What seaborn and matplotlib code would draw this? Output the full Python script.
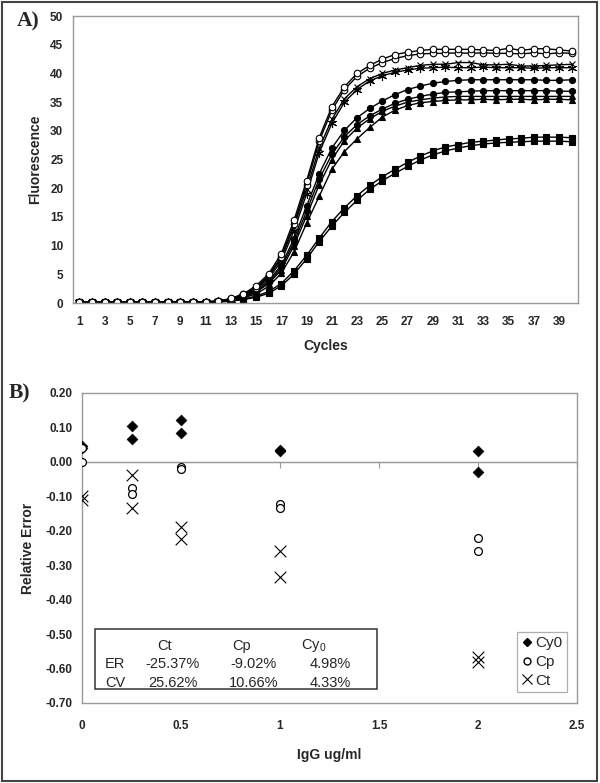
import matplotlib
matplotlib.use("Agg")
import matplotlib.pyplot as plt
from matplotlib.patches import Rectangle
from matplotlib.lines import Line2D
import seaborn as sns
import numpy as np

# ---------------- data ----------------
cycles = list(range(1, 41))
base = [0.1, 0.1, 0.1, 0.1, 0.1, 0.1, 0.1, 0.2, 0.2, 0.2, 0.2]

oc1 = base + [0.3, 0.8, 1.6, 3.0, 5.1, 8.6, 14.4, 21.3, 28.8, 34.2, 37.7, 40.0, 41.4, 42.5, 43.3, 43.7,
              44.0, 44.2, 44.2, 44.2, 44.2, 44.1, 44.0, 44.4, 44.0, 44.3, 44.3, 44.1, 43.9]
oc2 = base + [0.3, 0.7, 1.5, 2.7, 4.8, 8.1, 13.8, 20.6, 28.2, 33.6, 37.2, 39.5, 40.9, 41.9, 42.6, 43.1,
              43.4, 43.5, 43.5, 43.6, 43.5, 43.6, 43.5, 43.5, 43.4, 43.6, 43.4, 43.6, 43.5]
xs1 = base + [0.3, 0.7, 1.4, 2.6, 4.6, 7.8, 13.3, 19.8, 27.0, 32.0, 35.6, 37.7, 39.1, 40.0, 40.6, 41.0,
              41.4, 41.6, 41.6, 41.9, 41.9, 41.5, 41.5, 41.6, 41.3, 41.3, 41.4, 41.5, 41.6]
as1 = base + [0.3, 0.6, 1.3, 2.4, 4.3, 7.3, 12.6, 19.0, 26.2, 31.3, 35.0, 37.2, 38.7, 39.6, 40.2, 40.6,
              40.9, 41.0, 41.1, 41.0, 41.0, 41.1, 41.0, 41.0, 41.0, 40.9, 41.0, 41.0, 41.0]
fc1 = base + [0.3, 0.6, 1.2, 2.2, 3.9, 6.6, 11.2, 16.9, 22.5, 27.0, 30.1, 32.3, 33.9, 35.2, 36.3, 37.2,
              37.8, 38.3, 38.6, 38.8, 38.9, 38.9, 38.9, 38.9, 38.9, 38.9, 38.8, 38.8, 38.9]
fc2 = base + [0.3, 0.6, 1.1, 2.0, 3.6, 6.2, 10.6, 16.0, 21.6, 25.9, 29.0, 31.1, 32.6, 33.8, 34.8, 35.5,
              36.0, 36.4, 36.7, 36.8, 36.9, 37.0, 37.0, 37.0, 37.0, 37.0, 37.0, 36.9, 36.9]
tr1 = base + [0.3, 0.5, 1.0, 1.9, 3.4, 5.8, 10.0, 15.2, 20.6, 25.0, 28.3, 30.5, 32.1, 33.4, 34.3, 35.0,
              35.4, 35.7, 35.9, 36.0, 36.0, 36.0, 36.0, 36.0, 36.0, 36.0, 36.0, 36.0, 36.0]
tr2 = base + [0.2, 0.5, 0.9, 1.6, 2.9, 5.2, 8.9, 13.9, 18.6, 23.3, 26.4, 28.6, 30.6, 32.4, 33.6, 34.4,
              34.9, 35.1, 35.3, 35.4, 35.4, 35.5, 35.4, 35.5, 35.5, 35.4, 35.5, 35.5, 35.4]
sq1 = base + [0.2, 0.35, 0.7, 1.2, 2.0, 3.4, 5.6, 8.3, 11.3, 14.2, 16.6, 18.7, 20.5, 22.0, 23.3, 24.5,
              25.6, 26.5, 27.2, 27.6, 28.0, 28.2, 28.4, 28.6, 28.7, 28.9, 28.9, 28.9, 28.8]
sq2 = base + [0.2, 0.3, 0.6, 1.0, 1.7, 3.0, 5.0, 7.7, 10.7, 13.4, 15.8, 17.9, 19.8, 21.3, 22.6, 23.8,
              24.9, 25.8, 26.5, 27.0, 27.4, 27.7, 27.9, 28.0, 28.1, 28.2, 28.2, 28.2, 28.1]

conc = [0, 0, 0.25, 0.25, 0.5, 0.5, 1, 1, 2, 2]
cy0 = [0.045, 0.040, 0.103, 0.067, 0.122, 0.085, 0.035, 0.031, 0.033, -0.029]
cp = [0.040, 0.000, -0.076, -0.092, -0.014, -0.020, -0.123, -0.134, -0.222, -0.259]
ct = [-0.099, -0.112, -0.038, -0.135, -0.188, -0.225, -0.260, -0.333, -0.567, -0.581]

table_cols = ["Ct", "Cp", "Cy$_{\\mathregular{0}}$"]
table_rows = ["ER", "CV"]
table_er = ["-25.37%", "-9.02%", "4.98%"]
table_cv = ["25.62%", "10.66%", "4.33%"]

# ---------------- style ----------------
sns.set_style("white")
plt.rcParams['font.family'] = ['Liberation Sans', 'DejaVu Sans']
plt.rcParams['mathtext.fontset'] = 'custom'
plt.rcParams['mathtext.rm'] = 'Liberation Sans'
GRAY = '#9a9a9a'

fig = plt.figure(figsize=(6.0, 7.83), dpi=100)
fig.patch.set_facecolor('white')

# ---------------- panel A ----------------
axA = fig.add_axes([0.1217, 0.6130, 0.8417, 0.3665])
series = [
    (sq2, 's', 'black', 4.4), (sq1, 's', 'black', 4.4),
    (tr2, '^', 'black', 4.7), (tr1, '^', 'black', 4.7),
    (fc2, 'o', 'black', 4.4), (fc1, 'o', 'black', 4.4),
    (as1, (6, 2, 0), 'black', 6.5), (xs1, 'x', 'black', 4.8),
    (oc2, 'o', 'white', 4.7), (oc1, 'o', 'white', 4.7),
]
for vals, mk, fcol, ms in series:
    sns.lineplot(x=cycles, y=vals, ax=axA, color='black', lw=1.0, marker=mk,
                 markersize=ms, markerfacecolor=fcol, markeredgecolor='black',
                 markeredgewidth=0.8, errorbar=None)
axA.set_xlim(0.5, 40.5)
axA.set_ylim(0, 50)
axA.set_yticks(range(0, 51, 5))
axA.set_xticks(cycles)
axA.set_xticklabels([str(c) if c % 2 == 1 else '' for c in cycles])
axA.set_xticks(np.arange(0.5, 41, 1), minor=True)
axA.tick_params(axis='x', which='major', length=0, pad=9)
axA.tick_params(axis='x', which='minor', length=4, color=GRAY, direction='out', width=0.8)
axA.tick_params(axis='y', length=4, color=GRAY, direction='out', width=0.8, pad=3)
for lab in axA.get_xticklabels() + axA.get_yticklabels():
    lab.set_fontsize(8.5)
    lab.set_fontweight('bold')
for sp in axA.spines.values():
    sp.set_visible(True)
    sp.set_color(GRAY)
    sp.set_linewidth(1.0)
axA.set_xlabel("Cycles", fontsize=10, fontweight='bold', labelpad=8)
axA.set_ylabel("Fluorescence", fontsize=10, fontweight='bold', labelpad=6)
fig.text(0.028, 0.972, "A)", fontsize=15.5, fontweight='bold', family='Liberation Serif',
         va='center', ha='left')

# ---------------- panel B ----------------
axB = fig.add_axes([0.1367, 0.1022, 0.8250, 0.3959])
sns.scatterplot(x=conc, y=cy0, ax=axB, marker='D', s=30, color='black',
                edgecolor='black', linewidth=0.5, zorder=3)
sns.scatterplot(x=conc, y=cp, ax=axB, marker='o', s=32, facecolor='white',
                edgecolor='black', linewidth=0.9, zorder=4)
sns.scatterplot(x=conc, y=ct, ax=axB, marker='x', s=70, color='black',
                linewidth=0.8, zorder=4)
axB.set_xlim(0, 2.5)
axB.set_ylim(-0.70, 0.20)
yt = np.round(np.arange(-0.7, 0.21, 0.1), 2) + 0.0
axB.set_yticks(yt)
axB.set_yticklabels(["0.00" if abs(v) < 1e-9 else f"{v:.2f}" for v in yt])
xt = [0, 0.5, 1, 1.5, 2, 2.5]
axB.set_xticks(xt)
axB.set_xticklabels(['0', '0.5', '1', '1.5', '2', '2.5'])
axB.tick_params(axis='x', length=0, pad=12)
axB.tick_params(axis='y', length=4, color=GRAY, direction='out', width=0.8, pad=3)
for lab in axB.get_xticklabels() + axB.get_yticklabels():
    lab.set_fontsize(8.5)
    lab.set_fontweight('bold')
for sp in axB.spines.values():
    sp.set_visible(True)
    sp.set_color(GRAY)
    sp.set_linewidth(1.0)
axB.axhline(0, color=GRAY, lw=1.0, zorder=1)
# tick marks on the zero line
axT = axB.twiny()
axT.set_xlim(0, 2.5)
axT.set_xticks(xt)
axT.xaxis.set_ticks_position('bottom')
axT.spines['bottom'].set_position(('data', 0))
axT.spines['bottom'].set_color(GRAY)
for k in ['top', 'left', 'right']:
    axT.spines[k].set_visible(False)
axT.tick_params(axis='x', length=4, color=GRAY, direction='out', width=0.8, labelbottom=False,
                labeltop=False)
axT.set_zorder(0)
axB.set_zorder(1)
axB.patch.set_visible(False)

axB.set_xlabel("IgG ug/ml", fontsize=10, fontweight='bold', labelpad=12)
axB.set_ylabel("Relative Error", fontsize=10, fontweight='bold', labelpad=7)
fig.text(0.015, 0.498, "B)", fontsize=15.5, fontweight='bold', family='Liberation Serif',
         va='center', ha='left')

# legend
handles = [
    Line2D([], [], ls='none', marker='D', color='black', markersize=4.5),
    Line2D([], [], ls='none', marker='o', markerfacecolor='white', markeredgecolor='black', markersize=5),
    Line2D([], [], ls='none', marker='x', color='black', markersize=7.5, markeredgewidth=0.8),
]
leg = axB.legend(handles, ['Cy0', 'Cp', 'Ct'], loc='lower left', bbox_to_anchor=(0.878, 0.035),
                 frameon=True, fancybox=False, fontsize=11, handlelength=0.7,
                 handletextpad=0.2, borderpad=0.3, labelspacing=0.3, borderaxespad=0)
leg.get_frame().set_edgecolor(GRAY)
leg.get_frame().set_linewidth(0.9)

# table box
axB.add_patch(Rectangle((0.026, 0.045), 0.570, 0.194, transform=axB.transAxes,
                        facecolor='white', edgecolor='#333333', lw=1.1, zorder=5))
col_hdr_x = [0.166, 0.323, 0.469]
col_val_x = [0.183, 0.346, 0.502]
row_y = [0.126, 0.065]
for cx, t in zip(col_hdr_x, table_cols):
    axB.text(cx, 0.185, t, transform=axB.transAxes, ha='center', va='center',
             fontsize=10.5, zorder=6)
for ry, rl, vals in zip(row_y, table_rows, [table_er, table_cv]):
    axB.text(0.046, ry, rl, transform=axB.transAxes, ha='left', va='center',
             fontsize=10.5, zorder=6)
    for cx, v in zip(col_val_x, vals):
        axB.text(cx, ry, v, transform=axB.transAxes, ha='center', va='center',
                 fontsize=10.5, zorder=6)

# outer frame
fig.patches.append(Rectangle((0.003, 0.002), 0.992, 0.996, transform=fig.transFigure,
                             facecolor='none', edgecolor='#444444', lw=1.5))

fig.savefig("out.png", dpi=100, facecolor='white')
